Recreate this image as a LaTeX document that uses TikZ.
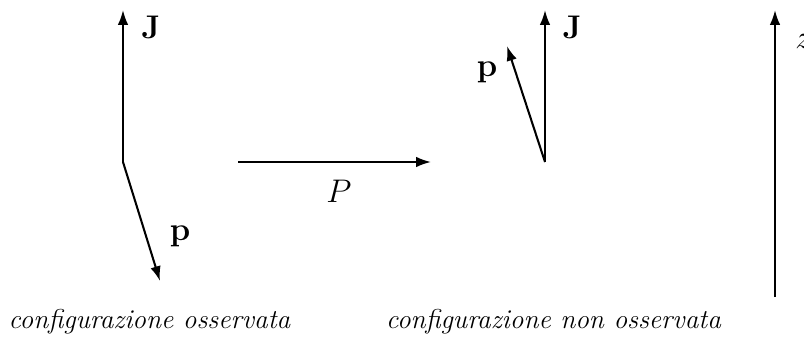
\documentclass[tikz,border=0pt]{standalone}
\usetikzlibrary{arrows.meta}
\begin{document}
\begin{tikzpicture}[x=0.44pt,y=-0.44pt,
  vec/.style={line width=0.9pt,-{Latex[length=6.5pt,width=4.6pt]}},
  lbl/.style={inner sep=0pt,font=\Large},
  captext/.style={inner sep=0pt,font=\large\itshape}]
\useasboundingbox (0,0) rectangle (804,341);
\clip (0,0) rectangle (804,341);
% left configuration
\coordinate (o1) at (123,162);
\coordinate (j1) at (123,10);
\coordinate (p1) at (160,281);
\draw[vec] (o1) -- (j1);
\draw[vec] (o1) -- (p1);
\node[lbl] (J1) at (151,27) {\textbf{J}};
\node[lbl] (P1) at (180,236) {$\mathbf{p}$};
% parity arrow
\coordinate (a0) at (238,162);
\coordinate (a1) at (431,162);
\draw[vec] (a0) -- (a1);
\node[lbl] (Plab) at (339,191) {$P$};
% right configuration
\coordinate (o2) at (545,162);
\coordinate (j2) at (545,10);
\coordinate (p2) at (507,46);
\draw[vec] (o2) -- (j2);
\draw[vec] (o2) -- (p2);
\node[lbl] (J2) at (572,27) {\textbf{J}};
\node[lbl] (P2) at (487,72) {$\mathbf{p}$};
% z axis
\coordinate (z0) at (775,297);
\coordinate (z1) at (775,10);
\draw[vec] (z0) -- (z1);
\node[inner sep=0pt,anchor=west,font=\Large] (zl) at (795,41) {$z$};
% captions
\node[captext] (c1) at (149.5,322) {configurazione osservata};
\node[captext] (c2) at (553.5,322) {configurazione non osservata};
\end{tikzpicture}
\end{document}
